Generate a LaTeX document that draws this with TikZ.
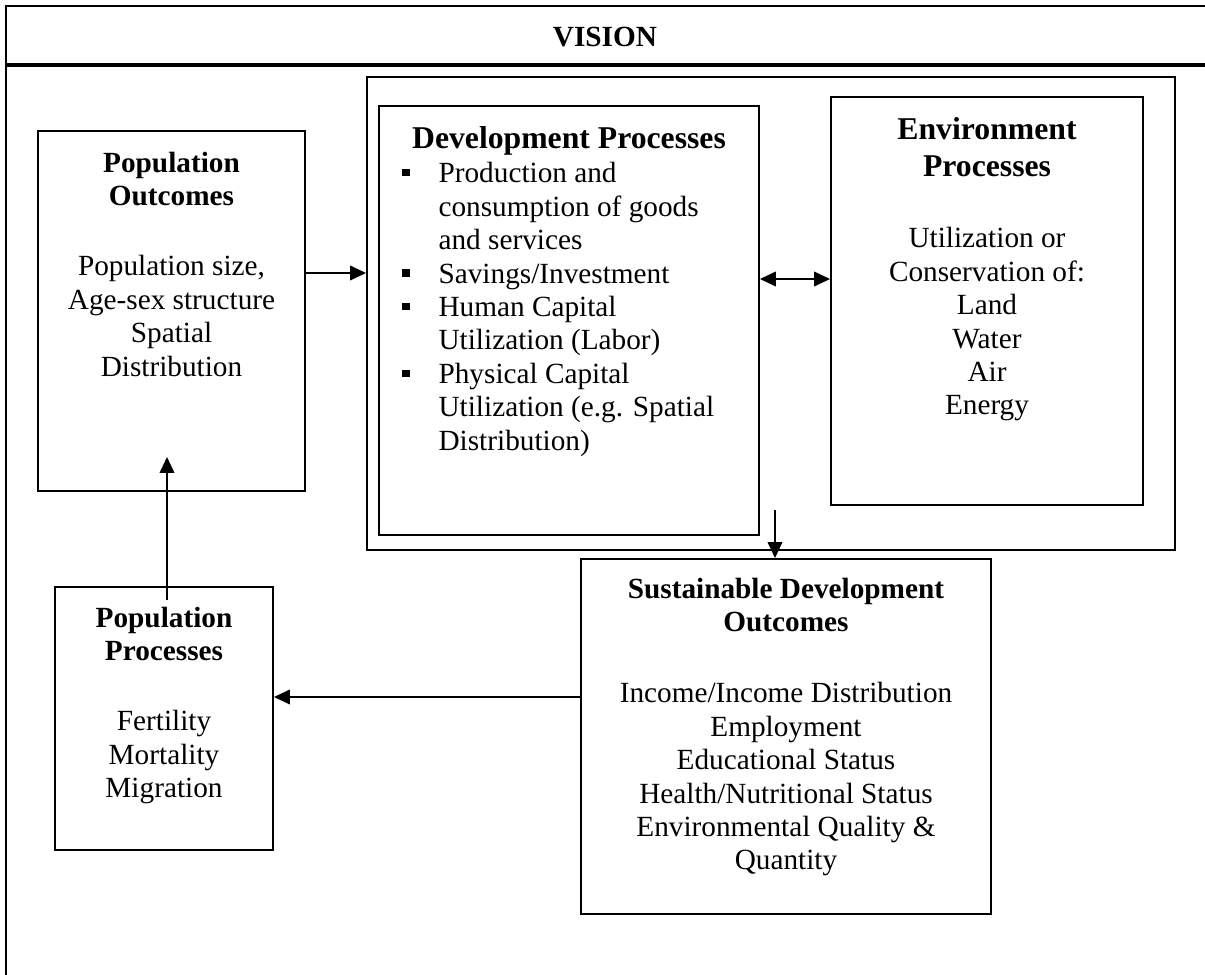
\documentclass[tikz,border=0pt]{standalone}
\usepackage{fontspec}
\setmainfont{Liberation Serif}
\usetikzlibrary{arrows.meta,fit}

\newcommand{\dbul}{\makebox[14.8pt][l]{\raisebox{2.6pt}{\rule{3pt}{3pt}}}}
\newcommand{\dskip}{\hspace*{14.8pt}}

\begin{document}
\begin{tikzpicture}[x=0.41pt,y=-0.41pt]
\tikzstyle{box}=[draw,line width=0.8pt,inner sep=0pt];
\tikzstyle{head}=[inner sep=0pt,anchor=north,align=center,font=\fontsize{12}{13.4}\selectfont\bfseries];
\tikzstyle{bighead}=[head,font=\fontsize{13}{15.2}\selectfont\bfseries];
\tikzstyle{body}=[inner sep=0pt,anchor=north,align=center,font=\fontsize{12}{13.7}\selectfont];
\tikzstyle{link}=[-{Triangle[length=6.5pt,width=6pt]},line width=0.6pt];
\tikzstyle{both}=[{Triangle[length=6.5pt,width=6pt]}-{Triangle[length=6.5pt,width=6pt]},line width=0.6pt];
\useasboundingbox (0,0) rectangle (1205,975);

% frame
\draw [line width=0.8pt] (6,975) -- (6,6) -- (1205,6);
\draw [line width=1.6pt] (6,65) -- (1205,65);
\node [head,anchor=center] (vis) at (605,37) {VISION};

% boxes
\node [box,fit={(38,131) (305,491)}] (po) {};
\node [head] (pohd) at (171.5,152) {Population\\Outcomes};
\node [body] (potx) at (171.5,255) {Population size,\\Age-sex structure\\Spatial\\Distribution};

\node [box,fit={(367,77) (1175,550)}] (grp) {};

\node [box,fit={(379,106) (759,535)}] (dev) {};
\node [bighead] (devhd) at (569,126) {Development Processes};
\node [body,anchor=north west,align=left] (devtx) at (402,162) {\dbul Production and\\
\dskip consumption of goods\\
\dskip and services\\
\dbul Savings/Investment\\
\dbul Human Capital\\
\dskip Utilization (Labor)\\
\dbul Physical Capital\\
\dskip Utilization (e.g. Spatial\\
\dskip Distribution)};

\node [box,fit={(831,97) (1143,505)}] (env) {};
\node [bighead] (envhd) at (987,117) {Environment\\Processes};
\node [body] (envtx) at (987,227) {Utilization or\\Conservation of:\\Land\\Water\\Air\\Energy};

\node [box,fit={(581,559) (991,914)}] (sd) {};
\node [head] (sdhd) at (786,578) {Sustainable Development\\Outcomes};
\node [body] (sdtx) at (786,682) {Income/Income Distribution\\Employment\\Educational Status\\Health/Nutritional Status\\Environmental Quality \&\\Quantity};

\node [box,fit={(55,587) (273,850)}] (pp) {};
\node [head] (pphd) at (164,607) {Population\\Processes};
\node [body] (pptx) at (164,710) {Fertility\\Mortality\\Migration};

% arrows
\coordinate (d1) at (775,510);
\coordinate (u1) at (167,600);
\coordinate (u2) at (167,457);
\draw [link] (po.east |- 0,273) -- (grp.west |- 0,273);
\draw [both] (dev.east |- 0,279) -- (env.west |- 0,279);
\draw [link] (d1) -- (d1 |- sd.north);
\draw [link] (sd.west |- 0,697) -- (pp.east |- 0,697);
\draw [link] (u1) -- (u2);
\end{tikzpicture}
\end{document}
